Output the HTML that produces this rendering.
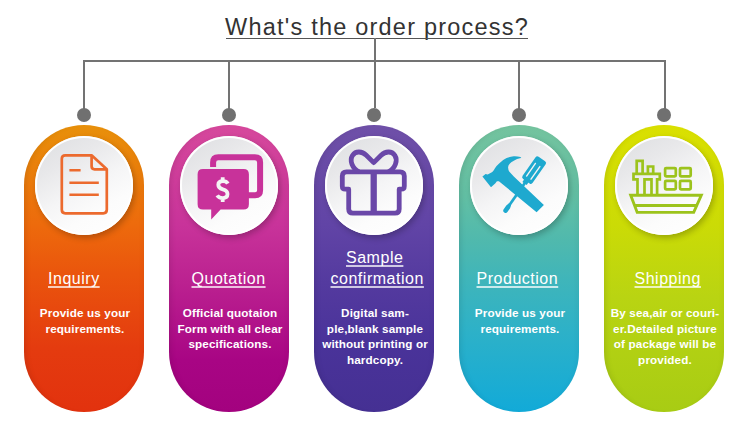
<!DOCTYPE html>
<html><head><meta charset="utf-8">
<style>
html,body{margin:0;padding:0;background:#fff;}
body{width:750px;height:430px;position:relative;overflow:hidden;font-family:"Liberation Sans",sans-serif;}
.abs{position:absolute;}
.title{position:absolute;left:225px;top:12.5px;font-size:23.5px;letter-spacing:1.22px;color:#333;white-space:nowrap;line-height:28px;}
.uline{position:absolute;left:226px;top:38px;width:302px;height:1.3px;background:#555;}
.ln{position:absolute;background:#737373;}
.dot{position:absolute;width:14px;height:14px;border-radius:50%;background:#707070;}
.card{position:absolute;top:125px;width:120px;height:287px;border-radius:60px;overflow:hidden;}
.circ{position:absolute;left:10.8px;top:11.4px;width:98.4px;height:98.4px;border-radius:50%;
  background:linear-gradient(150deg,#dcdde0 0%,#e8e8ea 28%,#f5f5f6 52%,#fcfcfc 72%,#ffffff 100%);
  box-shadow:inset 0 0 0 2px rgba(255,255,255,0.95), 2px 3px 6px rgba(0,0,0,0.24);}
.card{box-shadow:inset 6px 0 6px -5px rgba(0,0,0,0.13), inset -5px 0 6px -5px rgba(0,0,0,0.06);}
.h{position:absolute;color:#fff;font-size:16px;letter-spacing:0.52px;line-height:20px;white-space:nowrap;}
.h span{text-decoration:underline;text-decoration-thickness:1.5px;text-underline-offset:1.5px;text-decoration-skip-ink:none;text-decoration-color:rgba(255,255,255,0.72);}
.b{position:absolute;width:140px;text-align:center;color:#fff;font-weight:bold;font-size:11.7px;letter-spacing:0.13px;line-height:15.67px;white-space:nowrap;}
svg{position:absolute;}
</style></head><body>
<div class="title">What's the order process?</div>
<div class="uline"></div>
<div class="ln" style="left:373.5px;top:38px;width:2px;height:70px;"></div>
<div class="ln" style="left:83px;top:60px;width:583px;height:2px;"></div>
<div class="ln" style="left:83px;top:60px;width:2px;height:50px;"></div>
<div class="ln" style="left:228px;top:60px;width:2px;height:50px;"></div>
<div class="ln" style="left:518px;top:60px;width:2px;height:50px;"></div>
<div class="ln" style="left:663.5px;top:60px;width:2px;height:50px;"></div>
<div class="dot" style="left:77px;top:107.7px;"></div>
<div class="dot" style="left:222px;top:107.7px;"></div>
<div class="dot" style="left:367px;top:107.7px;"></div>
<div class="dot" style="left:512px;top:107.7px;"></div>
<div class="dot" style="left:657px;top:107.7px;"></div>

<!-- card 1 -->
<div class="card" style="left:24px;background:linear-gradient(180deg,#e8900a 0%,#ed6a0c 35%,#ea550d 52%,#e43b0f 78%,#e2320e 100%);"><div class="circ"></div></div>
<div class="card" style="left:169px;background:linear-gradient(180deg,#d6489c 0%,#c8339a 35%,#bb2190 55%,#a80584 82%,#a3027f 100%);"><div class="circ"></div></div>
<div class="card" style="left:314px;background:linear-gradient(180deg,#6f50a8 0%,#6144a6 35%,#543a9f 55%,#4a339a 75%,#453093 100%);"><div class="circ"></div></div>
<div class="card" style="left:459px;background:linear-gradient(180deg,#74c39e 0%,#62bfa4 25%,#50b9ad 40%,#3fb5ba 54%,#2db1c8 72%,#12aad8 100%);"><div class="circ"></div></div>
<div class="card" style="left:604px;background:linear-gradient(180deg,#dae000 0%,#cbdb06 35%,#b9d412 60%,#a8cc14 100%);"><div class="circ"></div></div>

<div class="h" style="left:48px;top:269px;"><span>Inquiry</span></div>
<div class="h" style="left:191.5px;top:269px;"><span>Quotation</span></div>
<div class="h" style="left:346px;top:248.3px;"><span>Sample </span></div>
<div class="h" style="left:330.5px;top:269px;"><span>confirmation</span></div>
<div class="h" style="left:476.5px;top:269px;"><span>Production</span></div>
<div class="h" style="left:634.5px;top:269px;"><span>Shipping</span></div>

<div class="b" style="left:15px;top:305px;">Provide us your<br>requirements.</div>
<div class="b" style="left:160px;top:305px;">Official quotaion<br>Form with all clear<br>specifications.</div>
<div class="b" style="left:305px;top:305px;">Digital sam-<br>ple,blank sample<br>without printing or<br>hardcopy.</div>
<div class="b" style="left:450px;top:305px;">Provide us your<br>requirements.</div>
<div class="b" style="left:595px;top:305px;">By sea,air or couri-<br>er.Detailed picture<br>of package will be<br>provided.</div>

<svg width="750" height="430" viewBox="0 0 750 430" style="left:0;top:0;">
 <!-- icon 1 document -->
 <g fill="none" stroke="#ec6a2e" stroke-width="2.7" stroke-linejoin="round" stroke-linecap="butt">
  <path d="M65.3 155.3 H91.6 L106.8 169.3 V209.8 Q106.8 213.3 103.3 213.3 H65.3 Q61.8 213.3 61.8 209.8 V158.8 Q61.8 155.3 65.3 155.3 Z"/>
  <path d="M91.6 155.3 V166.3 Q91.6 169.3 94.6 169.3 H106.8"/>
  <path d="M70.7 170.3 H79.3 M70.7 182.8 H97.5 M70.7 194.8 H97.5" stroke-linecap="square" stroke-width="2.6"/>
 </g>
 <!-- icon 2 chat -->
 <g fill="#c8329a">
  <path fill="none" stroke="#c8329a" stroke-width="6" d="M213.1 167 V162.5 Q213.1 157.3 218.3 157.3 H254.9 Q260.1 157.3 260.1 162.5 V190.3 Q260.1 195.3 255.1 195.3 H247"/>
  <path d="M203 168.9 H243.6 Q248.9 168.9 248.9 174.2 V204.3 Q248.9 209.6 243.6 209.6 H220.6 L211.2 219.6 V209.6 H203 Q197.6 209.6 197.6 204.3 V174.2 Q197.6 168.9 203 168.9 Z"/>
  <path fill="none" stroke="#f4f4f4" stroke-width="3.8" stroke-linecap="butt" d="M227.8 183.6 Q226.5 181.2 222.8 181.2 Q218.3 181.2 218.3 184.8 Q218.3 188.2 222.8 189.3 Q227.5 190.4 227.5 194.1 Q227.5 198.1 222.6 198.1 Q218.8 198.1 217.2 195.4 M222.7 177.3 V181.5 M222.7 197.8 V202"/>
 </g>
 <!-- icon 3 gift -->
 <g fill="none" stroke="#6a47a8" stroke-width="4.8" stroke-linejoin="round">
  <path d="M348.7 189.2 H345.3 Q342.3 189.2 342.3 186.2 V176.1 Q342.3 171.9 346.5 171.9 H400.1 Q404.3 171.9 404.3 176.1 V186.2 Q404.3 189.2 401.3 189.2 H399.2 V209 Q399.2 213.2 395 213.2 H352.9 Q348.7 213.2 348.7 209 Z"/>
  <path d="M373.7 171.9 V213.2" stroke-width="6.3"/>
  <path d="M359 171.9 C352 168.3 349.3 160.5 352.6 155.3 C355.8 150.6 362 151.2 366.3 155.3 L373.7 162.6 L381.1 155.3 C385.4 151.2 391.6 150.6 394.8 155.3 C398.1 160.5 395.4 168.3 388.4 171.9"/>
 </g>
 <!-- icon 4 tools -->
 <g fill="#1ea9cf">
  <path d="M482.4 176.6 L485.6 174 L487.7 174.5 L492.3 172 Q494 170.3 494.8 168.4 Q497 165.3 499.4 163.3 Q502.5 160 506.6 158.1 Q510 156.5 513.8 156.3 Q517.5 156.2 520.4 156.9 Q521.6 157.6 520.9 158.1 Q516.8 159 513.8 160.7 Q510.8 162.3 509.7 163.8 Q508 165.5 508.1 167.4 Q508.2 169.6 509.2 171.4 L513.8 176.6 L543.9 205.1 L536.6 212.3 L498.9 181.2 L496.9 181.2 L495.4 183.2 L491 187.3 Z"/>
  <g transform="translate(534 170) rotate(35)">
   <rect x="-6" y="-13.5" width="12.3" height="27" rx="2.2"/>
   <rect x="-2.6" y="12" width="5.2" height="4.5"/>
   <rect x="-1.4" y="15" width="2.8" height="29"/>
   <path d="M-1.4 42 L-2.3 45 V49.6 Q-2.3 51.8 0 51.8 Q2.3 51.8 2.3 49.6 V45 L1.4 42 Z"/>
   <path fill="none" stroke="#f3f3f3" stroke-width="1.4" stroke-linecap="round" d="M-2.6 -6.2 V9.2 M2.8 -6.2 V9.2"/>
  </g>
 </g>
 <!-- icon 5 ship -->
 <g fill="none" stroke="#9cc31c" stroke-width="2.7" stroke-linejoin="miter">
  <path d="M630.7 195.3 H701.3 L693.7 212.4 H637.2 Z" stroke-width="2.9"/>
  <path d="M634.4 205.5 H697.1" stroke-width="2.8"/>
  <path d="M637.5 195.3 V179.4 H633.5 V173.8 H659.8 V179.4 H657.1 V195.4"/>
  <path d="M644.5 195.4 V179.4 H651.5 V195.4"/>
  <path d="M636.7 173.8 V160.9 H642.6 V173.8"/>
  <path d="M647.9 173.8 V166.5 H653.2 V173.8"/>
  <rect x="665.1" y="168.1" width="10.7" height="8.2" rx="1"/>
  <rect x="680" y="168.1" width="10.7" height="8.2" rx="1"/>
  <rect x="665.1" y="180.9" width="10.7" height="8.4" rx="1"/>
  <rect x="680" y="180.9" width="10.7" height="8.4" rx="1"/>
 </g>
</svg>
</body></html>
